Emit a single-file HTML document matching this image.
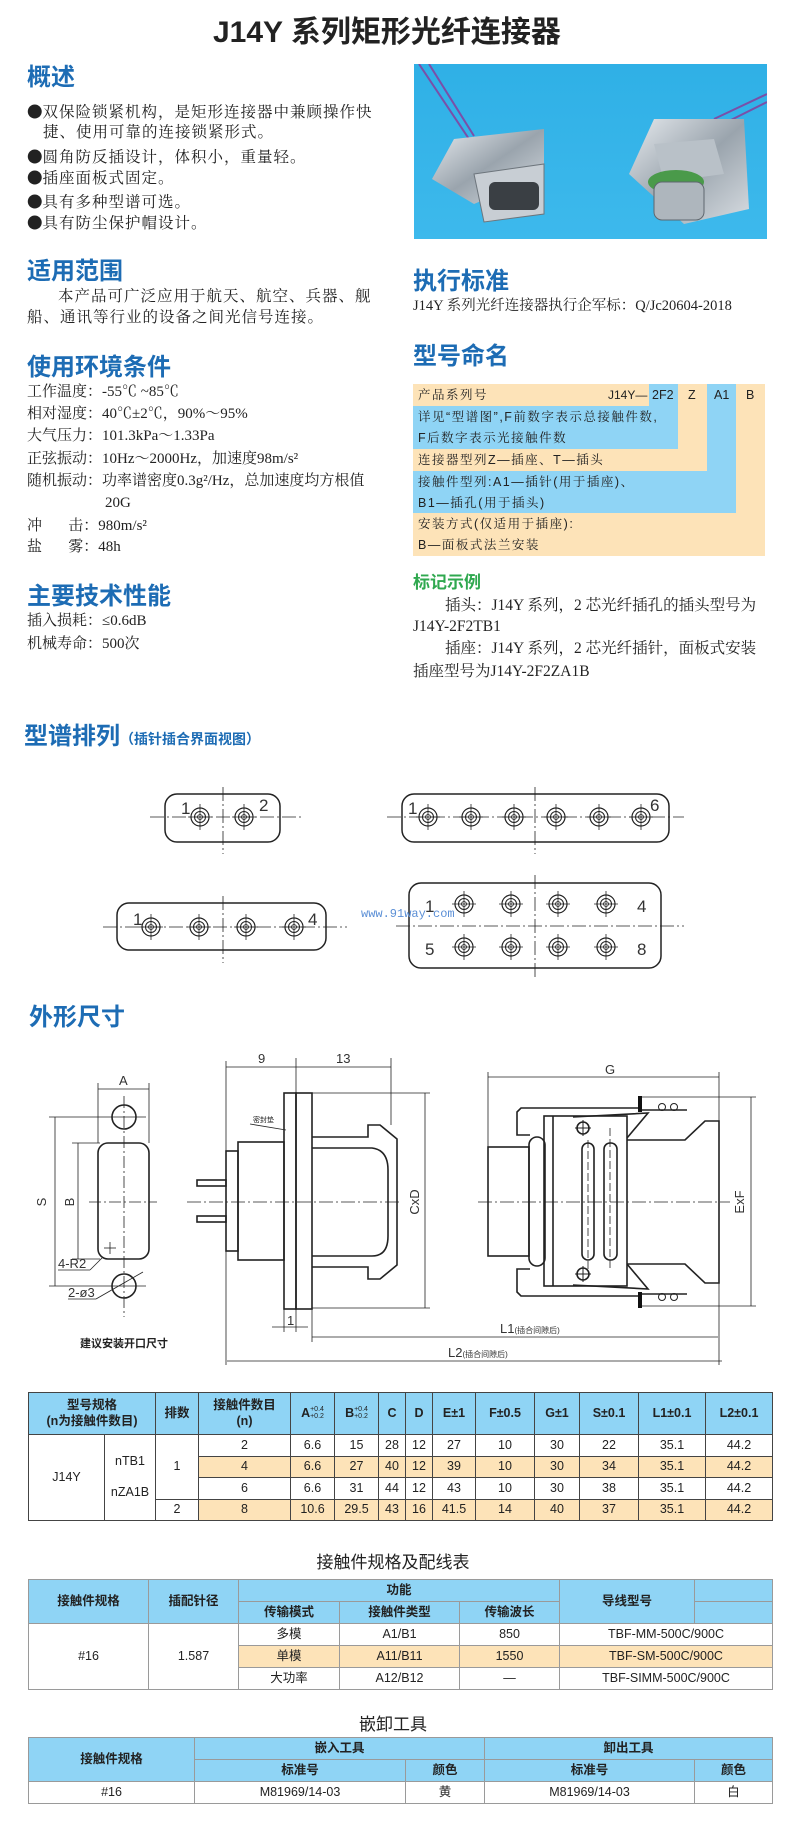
<!DOCTYPE html>
<html><head><meta charset="utf-8">
<style>
html,body{margin:0;padding:0;background:#fff;}
body{width:786px;height:1828px;position:relative;overflow:hidden;font-family:"Liberation Serif","Noto Serif CJK SC",serif;color:#222;}
.t{position:absolute;white-space:nowrap;line-height:1;}
.h{position:absolute;white-space:nowrap;line-height:1;font-family:"Liberation Sans","Noto Sans CJK SC",sans-serif;font-weight:bold;color:#1d6cb4;font-size:24px;}
.b{font-size:15.5px;letter-spacing:1px;}
.dot{font-family:"Noto Sans CJK SC",sans-serif;letter-spacing:0;}
.e{font-size:15px;}
.nm{position:absolute;white-space:nowrap;line-height:1;font-size:12.5px;font-family:"Liberation Sans","Noto Serif CJK SC",serif;letter-spacing:1.5px;color:#222;}
table{position:absolute;border-collapse:collapse;table-layout:fixed;font-family:"Liberation Sans","Noto Sans CJK SC",sans-serif;font-size:12.5px;color:#222;}
td{padding:0;text-align:center;vertical-align:middle;line-height:1.25;}
tr.bl td{font-weight:bold;}
.bl{background:#8fd4f5;}
.or{background:#fde3b8;}
#t1 td{border:1px solid #444;}
#t2 td,#t3 td{border:1px solid #9a9a9a;}
sup.s{font-size:7px;line-height:1;display:inline-block;vertical-align:middle;text-align:left;font-weight:normal;}
</style></head><body>

<div class="t" style="left:213px;top:18px;font-size:30px;font-weight:bold;font-family:'Liberation Sans','Noto Sans CJK SC',sans-serif;color:#222;">J14Y 系列矩形光纤连接器</div>

<div class="h" style="left:27px;top:66px;">概述</div>
<div class="t b" style="left:27px;top:104px;"><span class="dot">●</span>双保险锁紧机构，是矩形连接器中兼顾操作快</div>
<div class="t b" style="left:43px;top:125px;">捷、使用可靠的连接锁紧形式。</div>
<div class="t b" style="left:27px;top:149px;"><span class="dot">●</span>圆角防反插设计，体积小，重量轻。</div>
<div class="t b" style="left:27px;top:170px;"><span class="dot">●</span>插座面板式固定。</div>
<div class="t b" style="left:27px;top:194px;"><span class="dot">●</span>具有多种型谱可选。</div>
<div class="t b" style="left:27px;top:215px;"><span class="dot">●</span>具有防尘保护帽设计。</div>

<div class="h" style="left:27px;top:260px;">适用范围</div>
<div class="t b" style="left:58px;top:289px;">本产品可广泛应用于航天、航空、兵器、舰</div>
<div class="t b" style="left:27px;top:310px;">船、通讯等行业的设备之间光信号连接。</div>

<div class="h" style="left:27px;top:356px;">使用环境条件</div>
<div class="t e" style="left:27px;top:385px;">工作温度：-55℃ ~85℃</div>
<div class="t e" style="left:27px;top:407px;">相对湿度：40℃±2℃，90%～95%</div>
<div class="t e" style="left:27px;top:429px;">大气压力：101.3kPa～1.33Pa</div>
<div class="t e" style="left:27px;top:452px;">正弦振动：10Hz～2000Hz，加速度98m/s²</div>
<div class="t e" style="left:27px;top:474px;">随机振动：功率谱密度0.3g²/Hz，总加速度均方根值</div>
<div class="t e" style="left:105px;top:496px;">20G</div>
<div class="t e" style="left:27px;top:519px;">冲&nbsp;&nbsp;&nbsp;&nbsp;&nbsp;&nbsp;&nbsp;击：980m/s²</div>
<div class="t e" style="left:27px;top:540px;">盐&nbsp;&nbsp;&nbsp;&nbsp;&nbsp;&nbsp;&nbsp;雾：48h</div>

<div class="h" style="left:27px;top:585px;">主要技术性能</div>
<div class="t e" style="left:27px;top:614px;">插入损耗：≤0.6dB</div>
<div class="t e" style="left:27px;top:637px;">机械寿命：500次</div>

<svg style="position:absolute;left:414px;top:64px;" width="353" height="175" viewBox="0 0 353 175">
<defs><linearGradient id="bg" x1="0" y1="0" x2="0" y2="1"><stop offset="0" stop-color="#2fb0e6"/><stop offset="1" stop-color="#3db9ec"/></linearGradient>
<linearGradient id="mt" x1="0" y1="0" x2="1" y2="1"><stop offset="0" stop-color="#e6eaee"/><stop offset="0.5" stop-color="#9aa4ad"/><stop offset="1" stop-color="#d8dde2"/></linearGradient></defs>
<rect width="353" height="175" fill="url(#bg)"/>
<path d="M5 0 L55 75 M15 0 L60 72" stroke="#7a4fa8" stroke-width="2" fill="none"/>
<path d="M353 30 L300 55 M353 38 L305 62" stroke="#7a4fa8" stroke-width="2" fill="none"/>
<polygon points="18,115 40,75 130,65 130,110 60,140" fill="url(#mt)"/>
<polygon points="60,110 130,100 130,150 70,158" fill="#c8ced4" stroke="#6d757c"/>
<rect x="75" y="118" width="50" height="28" rx="6" fill="#3a3f44"/>
<polygon points="215,110 240,55 330,55 335,145 270,160" fill="url(#mt)"/>
<polygon points="240,80 300,75 310,110 250,118" fill="#b9c1c8"/>
<ellipse cx="262" cy="118" rx="28" ry="12" fill="#4a9a4a"/>
<rect x="240" y="118" width="50" height="38" rx="8" fill="#aeb6bd" stroke="#5f676e"/>
</svg>

<div class="h" style="left:413px;top:270px;">执行标准</div>
<div class="t" style="left:413px;top:299px;font-size:14.5px;">J14Y 系列光纤连接器执行企军标：Q/Jc20604-2018</div>
<div class="h" style="left:413px;top:345px;">型号命名</div>

<div style="position:absolute;left:413px;top:384px;width:352px;height:172px;background:#fde3b8;"></div>
<div style="position:absolute;left:649px;top:384px;width:29px;height:22px;background:#8fd4f5;"></div>
<div style="position:absolute;left:413px;top:406px;width:265px;height:43px;background:#8fd4f5;"></div>
<div style="position:absolute;left:707px;top:384px;width:29px;height:87px;background:#8fd4f5;"></div>
<div style="position:absolute;left:413px;top:471px;width:323px;height:42px;background:#8fd4f5;"></div>
<div class="nm" style="left:418px;top:389px;">产品系列号</div>
<div class="nm" style="left:608px;top:389px;letter-spacing:0;font-size:12px;">J14Y—</div>
<div class="nm" style="left:652px;top:389px;letter-spacing:0;">2F2</div>
<div class="nm" style="left:688px;top:389px;">Z</div>
<div class="nm" style="left:714px;top:389px;letter-spacing:0;">A1</div>
<div class="nm" style="left:746px;top:389px;">B</div>
<div class="nm" style="left:418px;top:411px;">详见“型谱图”,F前数字表示总接触件数,</div>
<div class="nm" style="left:418px;top:432px;">F后数字表示光接触件数</div>
<div class="nm" style="left:418px;top:454px;">连接器型列Z—插座、T—插头</div>
<div class="nm" style="left:418px;top:476px;">接触件型列:A1—插针(用于插座)、</div>
<div class="nm" style="left:418px;top:497px;">B1—插孔(用于插头)</div>
<div class="nm" style="left:418px;top:518px;">安装方式(仅适用于插座):</div>
<div class="nm" style="left:418px;top:539px;">B—面板式法兰安装</div>

<div class="t" style="left:413px;top:574px;font-size:17px;font-weight:bold;color:#2fa84f;font-family:'Liberation Sans','Noto Sans CJK SC',sans-serif;">标记示例</div>
<div class="t" style="left:445px;top:598px;font-size:15.5px;">插头：J14Y 系列，2 芯光纤插孔的插头型号为</div>
<div class="t" style="left:413px;top:619px;font-size:15.5px;">J14Y-2F2TB1</div>
<div class="t" style="left:445px;top:641px;font-size:15.5px;">插座：J14Y 系列，2 芯光纤插针，面板式安装</div>
<div class="t" style="left:413px;top:664px;font-size:15.5px;">插座型号为J14Y-2F2ZA1B</div>

<div class="h" style="left:24px;top:725px;">型谱排列<span style="font-size:14px;">（插针插合界面视图）</span></div>
<div class="h" style="left:29px;top:1006px;">外形尺寸</div>

<svg style="position:absolute;left:0;top:0;" width="786" height="1828" viewBox="0 0 786 1828">
<defs>
<g id="hole"><circle r="9" fill="none" stroke="#222" stroke-width="1.2"/><circle r="5.5" fill="none" stroke="#222" stroke-width="1"/><circle r="2.5" fill="none" stroke="#222" stroke-width="0.8"/><line x1="0" y1="-13" x2="0" y2="13" stroke="#222" stroke-width="0.8"/><line x1="-12" y1="0" x2="12" y2="0" stroke="#222" stroke-width="0.8"/></g>
</defs>
<g fill="none" stroke="#222" stroke-width="1.5">
<rect x="165" y="794" width="115" height="48" rx="12"/>
<rect x="402" y="794" width="267" height="48" rx="12"/>
<rect x="117" y="903" width="209" height="47" rx="12"/>
<rect x="409" y="883" width="252" height="85" rx="12"/>
</g>
<g stroke="#222" stroke-width="0.8" stroke-dasharray="14,3,2,3">
<line x1="150" y1="817" x2="303" y2="817"/><line x1="223" y1="787" x2="223" y2="854"/>
<line x1="387" y1="817" x2="684" y2="817"/><line x1="535" y1="787" x2="535" y2="854"/>
<line x1="103" y1="927" x2="347" y2="927"/><line x1="223" y1="896" x2="223" y2="963"/>
<line x1="396" y1="926" x2="684" y2="926"/><line x1="535" y1="875" x2="535" y2="977"/>
</g>
<use href="#hole" x="200" y="817"/><use href="#hole" x="244" y="817"/>
<use href="#hole" x="428" y="817"/><use href="#hole" x="471" y="817"/><use href="#hole" x="514" y="817"/><use href="#hole" x="556" y="817"/><use href="#hole" x="599" y="817"/><use href="#hole" x="641" y="817"/>
<use href="#hole" x="151" y="927"/><use href="#hole" x="199" y="927"/><use href="#hole" x="246" y="927"/><use href="#hole" x="294" y="927"/>
<use href="#hole" x="464" y="904"/><use href="#hole" x="511" y="904"/><use href="#hole" x="558" y="904"/><use href="#hole" x="606" y="904"/>
<use href="#hole" x="464" y="947"/><use href="#hole" x="511" y="947"/><use href="#hole" x="558" y="947"/><use href="#hole" x="606" y="947"/>
<g font-family="Liberation Sans, sans-serif" font-size="17" fill="#333">
<text x="181" y="814">1</text><text x="259" y="811">2</text>
<text x="408" y="814">1</text><text x="650" y="811">6</text>
<text x="133" y="925">1</text><text x="308" y="925">4</text>
<text x="425" y="912">1</text><text x="637" y="912">4</text>
<text x="425" y="955">5</text><text x="637" y="955">8</text>
</g>
<text x="361" y="917" font-family="Liberation Mono, monospace" font-size="12" fill="#5b8fd6">www.91way.com</text>

<g stroke="#222" fill="none" stroke-width="0.8">
<line x1="98" y1="1083" x2="98" y2="1143"/><line x1="149" y1="1083" x2="149" y2="1143"/>
<line x1="98" y1="1089" x2="149" y2="1089"/>
<line x1="49" y1="1117" x2="146" y2="1117"/><line x1="49" y1="1286" x2="146" y2="1286"/>
<line x1="55" y1="1117" x2="55" y2="1286"/>
<line x1="72" y1="1143" x2="100" y2="1143"/><line x1="72" y1="1259" x2="100" y2="1259"/>
<line x1="78" y1="1143" x2="78" y2="1259"/>
<line x1="124" y1="1096" x2="124" y2="1317" stroke-dasharray="12,3,2,3"/>
<line x1="89" y1="1202" x2="157" y2="1202" stroke-dasharray="12,3,2,3"/>
<line x1="104" y1="1248" x2="116" y2="1248"/><line x1="110" y1="1242" x2="110" y2="1254"/>
<line x1="58" y1="1270" x2="90" y2="1270"/><line x1="90" y1="1270" x2="102" y2="1258"/>
<line x1="68" y1="1299" x2="96" y2="1299"/><line x1="96" y1="1299" x2="143" y2="1272"/>
</g>
<g stroke="#222" fill="none" stroke-width="1.6">
<circle cx="124" cy="1117" r="12"/><circle cx="124" cy="1286" r="12"/>
<rect x="98" y="1143" width="51" height="116" rx="10"/>
</g>
<g font-family="Liberation Sans, sans-serif" font-size="13" fill="#333">
<text x="119" y="1085">A</text>
<text x="46" y="1202" transform="rotate(-90 46 1202)" text-anchor="middle">S</text>
<text x="74" y="1202" transform="rotate(-90 74 1202)" text-anchor="middle">B</text>
<text x="58" y="1268">4-R2</text>
<text x="68" y="1297">2-ø3</text>
</g>
<text x="80" y="1347" font-family="Noto Sans CJK SC, sans-serif" font-size="11" font-weight="bold" fill="#222">建议安装开口尺寸</text>

<g stroke="#222" fill="none" stroke-width="0.8">
<line x1="226" y1="1061" x2="226" y2="1365"/><line x1="296" y1="1058" x2="296" y2="1093"/><line x1="391" y1="1058" x2="391" y2="1125"/>
<line x1="226" y1="1067" x2="391" y2="1067"/>
<line x1="312" y1="1093" x2="430" y2="1093"/><line x1="312" y1="1308" x2="430" y2="1308"/>
<line x1="425" y1="1093" x2="425" y2="1308"/>
<line x1="284" y1="1309" x2="284" y2="1332"/><line x1="296" y1="1309" x2="296" y2="1332"/>
<line x1="272" y1="1327" x2="308" y2="1327"/>
<line x1="312" y1="1309" x2="312" y2="1342"/>
<line x1="312" y1="1337" x2="718" y2="1337"/>
<line x1="227" y1="1361" x2="722" y2="1361"/>
<line x1="187" y1="1202" x2="400" y2="1202" stroke-dasharray="14,3,2,3"/>
<line x1="250" y1="1124" x2="286" y2="1130"/>
</g>
<g stroke="#222" fill="none" stroke-width="1.6">
<rect x="284" y="1093" width="12" height="216"/><rect x="296" y="1093" width="16" height="216"/>
<rect x="238" y="1142" width="46" height="118"/><rect x="226" y="1151" width="12" height="100"/>
<rect x="197" y="1180" width="29" height="6"/><rect x="197" y="1216" width="29" height="6"/>
<polyline points="312,1137 368,1137 368,1125 380,1125 397,1139 397,1265 380,1279 368,1279 368,1267 312,1267"/>
<path d="M312,1148 L372,1148 Q388,1150 388,1170 L388,1236 Q388,1256 372,1256 L312,1256"/>
</g>
<g font-family="Liberation Sans, sans-serif" font-size="13" fill="#333">
<text x="258" y="1063">9</text><text x="336" y="1063">13</text>
<text x="287" y="1325">1</text>
<text x="419" y="1202" transform="rotate(-90 419 1202)" text-anchor="middle">CxD</text>
<text x="500" y="1333">L1<tspan font-size="8">(插合间隙后)</tspan></text>
<text x="448" y="1357">L2<tspan font-size="8">(插合间隙后)</tspan></text>
</g>
<text x="253" y="1122" font-family="Noto Sans CJK SC, sans-serif" font-size="7" fill="#222">密封垫</text>

<g stroke="#222" fill="none" stroke-width="0.8">
<line x1="488" y1="1072" x2="488" y2="1150"/><line x1="719" y1="1072" x2="719" y2="1365"/>
<line x1="488" y1="1077" x2="719" y2="1077"/>
<line x1="640" y1="1097" x2="756" y2="1097"/><line x1="640" y1="1306" x2="756" y2="1306"/>
<line x1="751" y1="1097" x2="751" y2="1306"/>
<line x1="478" y1="1202" x2="730" y2="1202" stroke-dasharray="14,3,2,3"/>
<line x1="588" y1="1140" x2="588" y2="1270" stroke-dasharray="8,3"/>
<line x1="610" y1="1128" x2="610" y2="1270" stroke-dasharray="8,3"/>
</g>
<g stroke="#222" fill="none" stroke-width="1.6">
<rect x="488" y="1147" width="41" height="109"/>
<rect x="529" y="1137" width="16" height="129" rx="8"/>
<rect x="544" y="1116" width="83" height="170"/>
<line x1="553" y1="1116" x2="553" y2="1286"/>
<polyline points="573,1117 648,1113 627,1138"/>
<polyline points="573,1285 648,1289 627,1264"/>
<polyline points="530,1135 517,1135 517,1112 521,1108 640,1108"/>
<polyline points="530,1269 517,1269 517,1292 521,1296 640,1296"/>
<rect x="582" y="1143" width="12" height="117" rx="6"/>
<rect x="604" y="1143" width="13" height="117" rx="6"/>
<polyline points="627,1140 685,1140 705,1121 719,1121 719,1283 705,1283 685,1264 627,1264"/>
<line x1="640" y1="1110" x2="687" y2="1110"/><line x1="640" y1="1294" x2="687" y2="1294"/>
<circle cx="583" cy="1128" r="6"/><circle cx="583" cy="1274" r="6"/>
</g>
<line x1="640" y1="1096" x2="640" y2="1112" stroke="#111" stroke-width="4"/>
<line x1="640" y1="1292" x2="640" y2="1308" stroke="#111" stroke-width="4"/>
<g stroke="#222" fill="none" stroke-width="1">
<circle cx="662" cy="1107" r="3.5"/><circle cx="674" cy="1107" r="3.5"/>
<circle cx="662" cy="1297" r="3.5"/><circle cx="674" cy="1297" r="3.5"/>
<line x1="575" y1="1128" x2="591" y2="1128"/><line x1="583" y1="1120" x2="583" y2="1136"/>
<line x1="575" y1="1274" x2="591" y2="1274"/><line x1="583" y1="1266" x2="583" y2="1282"/>
</g>
<g font-family="Liberation Sans, sans-serif" font-size="13" fill="#333">
<text x="605" y="1074">G</text>
<text x="744" y="1202" transform="rotate(-90 744 1202)" text-anchor="middle">ExF</text>
</g>
</svg>

<table id="t1" style="left:28px;top:1392px;width:744px;">
<colgroup><col style="width:76px"><col style="width:51px"><col style="width:43px"><col style="width:92px"><col style="width:44px"><col style="width:44px"><col style="width:27px"><col style="width:27px"><col style="width:43px"><col style="width:59px"><col style="width:45px"><col style="width:59px"><col style="width:67px"><col style="width:67px"></colgroup>
<tr class="bl" style="height:42px;"><td colspan="2">型号规格<br>(n为接触件数目)</td><td>排数</td><td>接触件数目<br>(n)</td><td>A<sup class="s">+0.4<br>+0.2</sup></td><td>B<sup class="s">+0.4<br>+0.2</sup></td><td>C</td><td>D</td><td>E±1</td><td>F±0.5</td><td>G±1</td><td>S±0.1</td><td>L1±0.1</td><td>L2±0.1</td></tr>
<tr style="height:22px;"><td rowspan="4">J14Y</td><td rowspan="4">nTB1<br><br>nZA1B</td><td rowspan="3">1</td><td>2</td><td>6.6</td><td>15</td><td>28</td><td>12</td><td>27</td><td>10</td><td>30</td><td>22</td><td>35.1</td><td>44.2</td></tr>
<tr class="or" style="height:21px;"><td>4</td><td>6.6</td><td>27</td><td>40</td><td>12</td><td>39</td><td>10</td><td>30</td><td>34</td><td>35.1</td><td>44.2</td></tr>
<tr style="height:22px;"><td>6</td><td>6.6</td><td>31</td><td>44</td><td>12</td><td>43</td><td>10</td><td>30</td><td>38</td><td>35.1</td><td>44.2</td></tr>
<tr style="height:21px;"><td>2</td><td class="or">8</td><td class="or">10.6</td><td class="or">29.5</td><td class="or">43</td><td class="or">16</td><td class="or">41.5</td><td class="or">14</td><td class="or">40</td><td class="or">37</td><td class="or">35.1</td><td class="or">44.2</td></tr>
</table>

<div class="t" style="left:0;width:786px;text-align:center;top:1554px;font-size:17px;font-family:'Liberation Sans','Noto Sans CJK SC',sans-serif;">接触件规格及配线表</div>
<table id="t2" style="left:28px;top:1579px;width:744px;">
<colgroup><col style="width:120px"><col style="width:90px"><col style="width:101px"><col style="width:120px"><col style="width:100px"><col style="width:135px"><col style="width:78px"></colgroup>
<tr class="bl" style="height:22px;"><td rowspan="2">接触件规格</td><td rowspan="2">插配针径</td><td colspan="3">功能</td><td rowspan="2">导线型号</td><td></td></tr>
<tr class="bl" style="height:22px;"><td>传输模式</td><td>接触件类型</td><td>传输波长</td><td></td></tr>
<tr style="height:22px;"><td rowspan="3">#16</td><td rowspan="3">1.587</td><td>多模</td><td>A1/B1</td><td>850</td><td colspan="2">TBF-MM-500C/900C</td></tr>
<tr class="or" style="height:22px;"><td>单模</td><td>A11/B11</td><td>1550</td><td colspan="2">TBF-SM-500C/900C</td></tr>
<tr style="height:22px;"><td>大功率</td><td>A12/B12</td><td>—</td><td colspan="2">TBF-SIMM-500C/900C</td></tr>
</table>

<div class="t" style="left:0;width:786px;text-align:center;top:1716px;font-size:17px;font-family:'Liberation Sans','Noto Sans CJK SC',sans-serif;">嵌卸工具</div>
<table id="t3" style="left:28px;top:1737px;width:744px;">
<colgroup><col style="width:166px"><col style="width:211px"><col style="width:79px"><col style="width:210px"><col style="width:78px"></colgroup>
<tr class="bl" style="height:22px;"><td rowspan="2">接触件规格</td><td colspan="2">嵌入工具</td><td colspan="2">卸出工具</td></tr>
<tr class="bl" style="height:22px;"><td>标准号</td><td>颜色</td><td>标准号</td><td>颜色</td></tr>
<tr style="height:22px;"><td>#16</td><td>M81969/14-03</td><td>黄</td><td>M81969/14-03</td><td>白</td></tr>
</table>

</body></html>
